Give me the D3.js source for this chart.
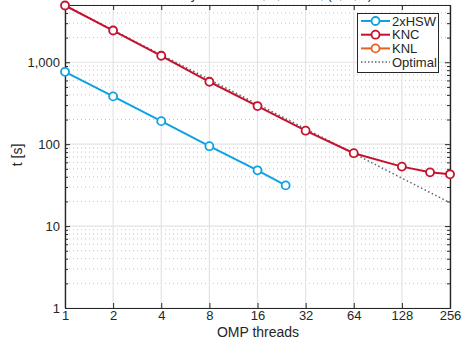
<!DOCTYPE html>
<html><head><meta charset="utf-8">
<script src="https://cdn.jsdelivr.net/npm/d3@7"></script>
<style>
html,body{margin:0;padding:0;background:#fff;}
svg{display:block;font-family:"Liberation Sans",Arial,sans-serif;}
</style></head>
<body><svg id="c" width="463" height="342"></svg>
<script>
const threadTicks = [1, 2, 4, 8, 16, 32, 64, 128, 256];
const yTicks = [1, 10, 100, 1000];
const hswThreads = [1, 2, 4, 8, 16, 24];
const hswTime = [764, 383, 191, 94.5, 48, 31.4];
const kncThreads = [1, 2, 4, 8, 16, 32, 64, 128, 192, 256];
const kncTime = [4930, 2440, 1200, 578, 292, 146, 77.6, 53.2, 45.3, 42.9];
const knlThreads = [];
const knlTime = [];
const optThreads = [1, 2, 4, 8, 16, 32, 64, 128, 256];
const optTime = [4930, 2465, 1232, 616, 308, 154, 77.0, 38.5, 19.3];
const seriesNames = ["2xHSW", "KNC", "KNL", "Optimal"];
const titleText = "1000 days Gaussian, 8, 65536, (4, 4, 4)";

const svg = d3.select("#c");
const L = 65, R = 450, T = 5, B = 308;
const x = d3.scaleLog().base(2).domain([1, 256]).range([L, R]);
const y = d3.scaleLog().domain([1, 5000]).range([B, T]);

// title (clipped at top)
svg.append("text").attr("x", 258).attr("y", -1).attr("text-anchor", "middle")
  .attr("font-size", 13).attr("fill", "#262626").text(titleText);

const g = svg.append("g");
// minor y grid
const minors = [];
for (let d = 1; d <= 1000; d *= 10) for (let k = 2; k <= 9; k++) { const v = d * k; if (v <= 5000) minors.push(v); }
g.selectAll(".ymin").data(minors).enter().append("line")
  .attr("x1", L).attr("x2", R).attr("y1", d => y(d)).attr("y2", d => y(d))
  .attr("stroke", "#c4c4c4").attr("stroke-width", 1).attr("stroke-dasharray", "1,3");
// major grid
g.selectAll(".ymaj").data(yTicks).enter().append("line")
  .attr("x1", L).attr("x2", R).attr("y1", d => y(d)).attr("y2", d => y(d))
  .attr("stroke", "#e3e3e3").attr("stroke-width", 1.2);
g.selectAll(".xmaj").data(threadTicks).enter().append("line")
  .attr("x1", d => x(d)).attr("x2", d => x(d)).attr("y1", T).attr("y2", B)
  .attr("stroke", "#e3e3e3").attr("stroke-width", 1.2);

// axes
const axB = d3.axisBottom(x).tickValues(threadTicks).tickFormat(d3.format("d")).tickSizeInner(-5).tickSizeOuter(0).tickPadding(3);
const axT = d3.axisTop(x).tickValues(threadTicks).tickFormat("").tickSizeInner(-5).tickSizeOuter(0);
const axLmin = d3.axisLeft(y).tickValues(minors).tickFormat("").tickSizeInner(-3).tickSizeOuter(0);
const axRmin = d3.axisRight(y).tickValues(minors).tickFormat("").tickSizeInner(-3).tickSizeOuter(0);
const axL = d3.axisLeft(y).tickValues(yTicks).tickFormat(d3.format(",")).tickSizeInner(-5).tickSizeOuter(0).tickPadding(5);
const axR = d3.axisRight(y).tickValues(yTicks).tickFormat("").tickSizeInner(-5).tickSizeOuter(0);
function styleAx(sel) {
  sel.selectAll("path").attr("stroke", "#262626").attr("stroke-width", 1.2);
  sel.selectAll("line").attr("stroke", "#262626");
  sel.selectAll("text").attr("fill", "#262626").attr("font-size", 13).attr("font-family", "Liberation Sans, Arial, sans-serif");
}
svg.append("g").attr("transform", `translate(0,${B})`).call(axB).call(styleAx);
svg.append("g").attr("transform", `translate(0,${T})`).call(axT).call(styleAx);
svg.append("g").attr("transform", `translate(${L},0)`).call(axLmin).call(styleAx);
svg.append("g").attr("transform", `translate(${R},0)`).call(axRmin).call(styleAx);
svg.append("g").attr("transform", `translate(${L},0)`).call(axL).call(styleAx);
svg.append("g").attr("transform", `translate(${R},0)`).call(axR).call(styleAx);

// labels
svg.append("text").attr("x", 258).attr("y", 337).attr("text-anchor", "middle")
  .attr("font-size", 14).attr("fill", "#262626").text("OMP threads");
svg.append("text").attr("transform", "translate(22,155) rotate(-90)").attr("text-anchor", "middle")
  .attr("font-size", 14).attr("fill", "#262626").text("t [s]");

const colors = { "2xHSW": "#0ea2e2", "KNC": "#c4122f", "KNL": "#e8601c", "Optimal": "#666" };
const line = d3.line().x(d => x(d[0])).y(d => y(d[1]));

// optimal
svg.append("path").datum(d3.zip(optThreads, optTime)).attr("d", line)
  .attr("fill", "none").attr("stroke", colors.Optimal).attr("stroke-width", 1.5).attr("stroke-dasharray", "1.5,2.5");

function drawSeries(ths, ts, col) {
  const data = d3.zip(ths, ts);
  if (!data.length) return;
  svg.append("path").datum(data).attr("d", line).attr("fill", "none").attr("stroke", col).attr("stroke-width", 2);
  svg.selectAll(null).data(data).enter().append("circle")
    .attr("cx", d => x(d[0])).attr("cy", d => y(d[1])).attr("r", 4)
    .attr("fill", "#fff").attr("stroke", col).attr("stroke-width", 1.8);
}
drawSeries(hswThreads, hswTime, colors["2xHSW"]);
drawSeries(kncThreads, kncTime, colors.KNC);
drawSeries(knlThreads, knlTime, colors.KNL);

// legend
const lg = svg.append("g");
lg.append("rect").attr("x", 357.5).attr("y", 13.5).attr("width", 81).attr("height", 59)
  .attr("fill", "#fff").attr("stroke", "#262626").attr("stroke-width", 1);
seriesNames.forEach((n, i) => {
  const yy = 21 + i * 13.7;
  const ln = lg.append("line").attr("x1", 361).attr("x2", 390).attr("y1", yy).attr("y2", yy)
    .attr("stroke", colors[n]).attr("stroke-width", n === "Optimal" ? 1.5 : 2);
  if (n === "Optimal") ln.attr("stroke-dasharray", "1.5,2");
  else lg.append("circle").attr("cx", 375.5).attr("cy", yy).attr("r", 4).attr("fill", "#fff")
    .attr("stroke", colors[n]).attr("stroke-width", 1.8);
  lg.append("text").attr("x", 392).attr("y", yy + 4.5).attr("font-size", 13).attr("fill", "#262626").text(n);
});
</script></body></html>
